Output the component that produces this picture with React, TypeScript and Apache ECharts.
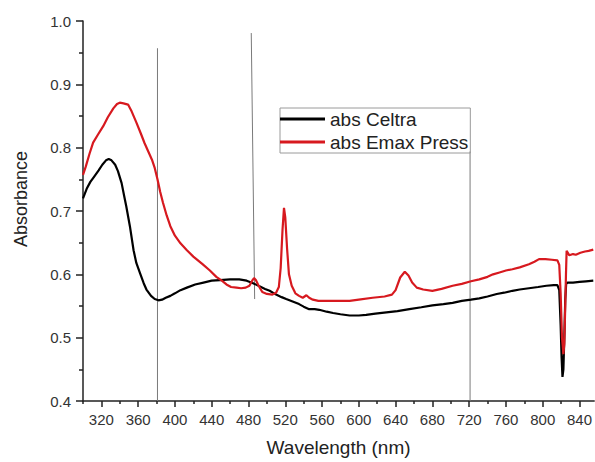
import React, { useEffect, useRef } from "react";
import * as echarts from "echarts";

const X_MAJOR_TICKS = [320, 360, 400, 440, 480, 520, 560, 600, 640, 680, 720, 760, 800, 840];
const X_MINOR_TICKS = [300, 340, 380, 420, 460, 500, 540, 580, 620, 660, 700, 740, 780, 820];
const Y_MAJOR_TICKS = [0.4, 0.5, 0.6, 0.7, 0.8, 0.9, 1.0];
const Y_MINOR_TICKS = [0.45, 0.55, 0.65, 0.75, 0.85, 0.95];

const SERIES_NAMES = ["abs Celtra", "abs Emax Press"];

const CELTRA: [number, number][] = [
  [300, 0.72], [304, 0.735], [308, 0.746], [312, 0.754], [317, 0.764], [321, 0.773],
  [325, 0.78], [328, 0.782], [331, 0.78], [335, 0.773], [338, 0.763], [342, 0.744],
  [345, 0.722], [347, 0.708], [351, 0.676], [355, 0.638], [358, 0.618], [362, 0.602],
  [366, 0.586], [369, 0.576], [374, 0.566], [378, 0.561], [382, 0.559], [386, 0.56],
  [390, 0.563], [395, 0.566], [400, 0.57], [406, 0.575], [413, 0.579], [422, 0.584],
  [431, 0.587], [440, 0.59], [449, 0.591], [460, 0.592], [470, 0.592], [478, 0.59],
  [485, 0.586], [492, 0.581], [498, 0.577], [503, 0.574], [510, 0.568], [516, 0.564],
  [521, 0.561], [528, 0.557], [535, 0.553], [540, 0.549], [546, 0.545], [552, 0.545],
  [557, 0.544], [565, 0.541], [572, 0.539], [580, 0.537], [590, 0.535], [600, 0.535],
  [608, 0.536], [618, 0.538], [630, 0.54], [642, 0.542], [655, 0.545], [668, 0.548],
  [680, 0.551], [692, 0.553], [702, 0.555], [712, 0.558], [722, 0.56], [731, 0.562],
  [740, 0.565], [750, 0.569], [758, 0.571], [767, 0.574], [775, 0.576], [785, 0.578],
  [795, 0.58], [804, 0.582], [812, 0.583], [816, 0.583], [818, 0.575], [819.5, 0.52],
  [820.5, 0.47], [821.5, 0.438], [822.5, 0.45], [823.5, 0.5], [824.5, 0.56], [825.5, 0.585],
  [827, 0.587], [833, 0.587], [840, 0.588], [847, 0.589], [855, 0.59],
];

const EMAX: [number, number][] = [
  [300, 0.757], [303, 0.77], [307, 0.79], [311, 0.808], [316, 0.82], [322, 0.834],
  [327, 0.848], [333, 0.862], [337, 0.869], [340, 0.871], [344, 0.87], [349, 0.868],
  [353, 0.857], [358, 0.84], [363, 0.822], [367, 0.807], [371, 0.794], [375, 0.781],
  [378, 0.768], [381, 0.75], [384, 0.73], [387, 0.713], [391, 0.693], [395, 0.676],
  [400, 0.661], [406, 0.649], [413, 0.638], [420, 0.628], [430, 0.616], [438, 0.606],
  [445, 0.596], [451, 0.59], [456, 0.584], [461, 0.58], [467, 0.579], [472, 0.578],
  [477, 0.579], [481, 0.582], [484, 0.59], [486, 0.594], [488, 0.591], [491, 0.582],
  [495, 0.572], [500, 0.569], [506, 0.568], [510, 0.571], [513, 0.58], [515, 0.61],
  [517, 0.67], [518.6, 0.705], [520, 0.69], [522, 0.64], [524, 0.6], [527, 0.582],
  [531, 0.57], [535, 0.566], [539, 0.563], [543, 0.567], [546, 0.563], [550, 0.56],
  [556, 0.558], [565, 0.558], [575, 0.558], [590, 0.558], [600, 0.56], [615, 0.563],
  [628, 0.565], [636, 0.568], [640, 0.575], [645, 0.595], [650, 0.604], [654, 0.598],
  [658, 0.587], [663, 0.579], [670, 0.576], [680, 0.574], [690, 0.577], [702, 0.582],
  [712, 0.585], [722, 0.589], [731, 0.592], [740, 0.596], [746, 0.6], [753, 0.603],
  [760, 0.606], [767, 0.608], [775, 0.611], [785, 0.616], [791, 0.62], [796, 0.624],
  [803, 0.624], [810, 0.623], [816, 0.622], [818, 0.615], [819.5, 0.57], [821, 0.5],
  [822.5, 0.474], [823.5, 0.49], [824.5, 0.55], [825.3, 0.6], [826, 0.637], [829, 0.63],
  [833, 0.632], [836, 0.631], [841, 0.634], [846, 0.636], [850, 0.637], [855, 0.639],
];

const MARKER_LINE_1: [number, number][] = [[381, 0.957], [381, 0.4]];
const MARKER_LINE_2: [number, number][] = [[483, 0.981], [486.7, 0.561]];
const MARKER_LINE_3: [number, number][] = [[721, 0.794], [721, 0.4]];

const FONT = "'Liberation Sans', Arial, sans-serif";

export default function App() {
  const ref = useRef<HTMLDivElement>(null);

  useEffect(() => {
    document.body.style.margin = "0";
    if (!ref.current) return;
    const chart = echarts.init(ref.current, undefined, { renderer: "svg" });

    const markerSeries = (data: [number, number][]) => ({
      type: "line",
      data,
      symbol: "none",
      silent: true,
      lineStyle: { color: "#7a7a7a", width: 1 },
      z: 1,
    });

    chart.setOption({
      animation: false,
      backgroundColor: "#ffffff",
      textStyle: { fontFamily: FONT },
      grid: { left: 83, top: 21, width: 512, height: 381, containLabel: false },
      legend: {
        data: SERIES_NAMES,
        orient: "vertical",
        left: 280,
        top: 108,
        icon: "rect",
        itemWidth: 45,
        itemHeight: 3,
        itemGap: 3,
        padding: [1, 2, 1, 0],
        borderColor: "#9a9a9a",
        borderWidth: 1,
        textStyle: { fontFamily: FONT, fontSize: 19, color: "#222", lineHeight: 20 },
      },
      xAxis: [
        {
          type: "value",
          min: 300,
          max: 856,
          position: "bottom",
          name: "Wavelength (nm)",
          nameLocation: "middle",
          nameGap: 37,
          nameTextStyle: { fontFamily: FONT, fontSize: 19, color: "#222" },
          axisLine: { show: true, lineStyle: { color: "#222", width: 1.5 } },
          axisTick: { show: true, customValues: X_MAJOR_TICKS, length: 6, lineStyle: { color: "#222", width: 1.5 } },
          axisLabel: { show: true, customValues: X_MAJOR_TICKS, margin: 11, fontSize: 15, color: "#333", fontFamily: FONT },
          splitLine: { show: false },
        },
        {
          type: "value",
          min: 300,
          max: 856,
          position: "bottom",
          axisLine: { show: false },
          axisTick: { show: true, customValues: X_MINOR_TICKS, length: 3, lineStyle: { color: "#222", width: 1.5 } },
          axisLabel: { show: false },
          splitLine: { show: false },
        },
      ],
      yAxis: [
        {
          type: "value",
          min: 0.4,
          max: 1.0,
          position: "left",
          axisLine: { show: true, lineStyle: { color: "#222", width: 1.5 } },
          axisTick: { show: true, customValues: Y_MAJOR_TICKS, length: 7, lineStyle: { color: "#222", width: 1.5 } },
          axisLabel: {
            show: true,
            customValues: Y_MAJOR_TICKS,
            margin: 12,
            fontSize: 15,
            color: "#333",
            fontFamily: FONT,
            formatter: (v: number) => v.toFixed(1),
          },
          splitLine: { show: false },
        },
        {
          type: "value",
          min: 0.4,
          max: 1.0,
          position: "left",
          axisLine: { show: false },
          axisTick: { show: true, customValues: Y_MINOR_TICKS, length: 4, lineStyle: { color: "#222", width: 1.5 } },
          axisLabel: { show: false },
          splitLine: { show: false },
        },
      ],
      graphic: [
        {
          type: "text",
          x: 21,
          y: 199,
          rotation: Math.PI / 2,
          style: {
            text: "Absorbance",
            fontFamily: FONT,
            fontSize: 18,
            fill: "#222",
            align: "center",
            verticalAlign: "middle",
          },
        },
      ],
      series: [
        markerSeries(MARKER_LINE_1),
        markerSeries(MARKER_LINE_2),
        markerSeries(MARKER_LINE_3),
        {
          name: SERIES_NAMES[0],
          type: "line",
          data: CELTRA,
          symbol: "none",
          color: "#000000",
          lineStyle: { color: "#000000", width: 2.2 },
          z: 3,
        },
        {
          name: SERIES_NAMES[1],
          type: "line",
          data: EMAX,
          symbol: "none",
          color: "#d7191f",
          lineStyle: { color: "#d7191f", width: 2.2 },
          z: 4,
        },
      ],
    });

    return () => chart.dispose();
  }, []);

  return <div ref={ref} style={{ width: 595, height: 462 }} />;
}
